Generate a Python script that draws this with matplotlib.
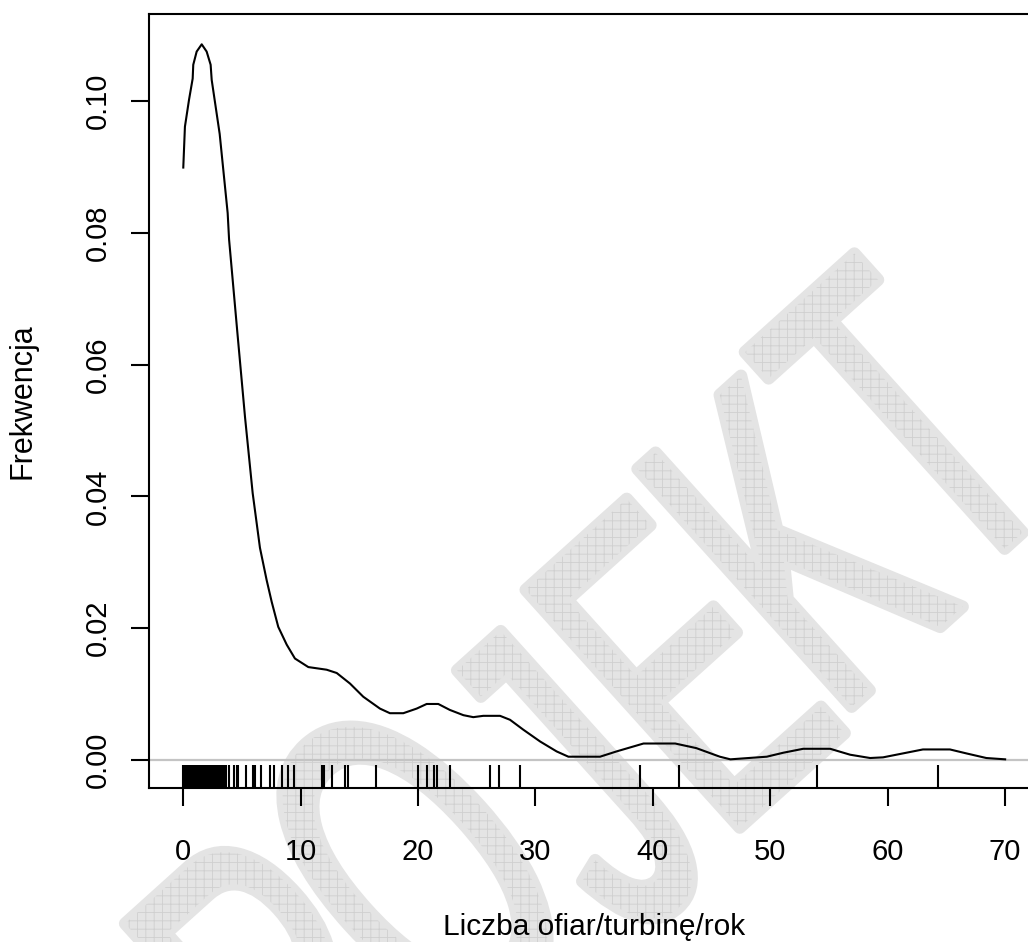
import numpy as np
import matplotlib
matplotlib.use("Agg")
import matplotlib.pyplot as plt
from matplotlib.textpath import TextPath
from matplotlib.font_manager import FontProperties
from matplotlib.patches import PathPatch
from matplotlib.transforms import Affine2D, IdentityTransform, blended_transform_factory

# ---- data ----
dens_x = [0.0, 0.14, 0.49, 0.80, 0.85, 1.14, 1.57, 1.99, 2.33, 2.42, 3.10, 3.78, 3.9,
          4.6, 5.26, 5.91, 6.53, 7.1, 7.53, 8.09, 8.81, 9.51, 10.65, 12.21, 13.07, 14.2,
          15.33, 16.75, 17.6, 18.74, 19.88, 20.73, 21.72, 22.7, 23.86, 24.7, 25.55, 26.98,
          27.83, 28.96, 30.4, 31.8, 32.8, 35.5, 36.9, 39.2, 41.9, 43.7, 45.7, 46.6, 49.7,
          51.1, 52.8, 55.1, 56.8, 58.5, 59.6, 61.3, 63.0, 65.3, 66.7, 68.4, 70.0]
dens_y = [0.0899, 0.0961, 0.1002, 0.1034, 0.1055, 0.1075, 0.1086, 0.1075, 0.1055, 0.1032,
          0.0950, 0.0830, 0.0790, 0.0650, 0.0520, 0.0405, 0.0322, 0.0273, 0.0240, 0.0202,
          0.0175, 0.0154, 0.0141, 0.0137, 0.0132, 0.0116, 0.0096, 0.0078, 0.0071, 0.0071,
          0.0078, 0.0085, 0.0085, 0.0076, 0.0068, 0.0065, 0.0067, 0.0067, 0.0061, 0.0046,
          0.0028, 0.0013, 0.0005, 0.0005, 0.0013, 0.0025, 0.0025, 0.0018, 0.0005, 0.0001,
          0.0005, 0.0011, 0.0017, 0.0017, 0.0008, 0.0003, 0.0004, 0.0010, 0.0016, 0.0016,
          0.0010, 0.0003, 0.0001]
rug_x = [0.0, 0.1, 0.15, 0.25, 0.3, 0.4, 0.5, 0.55, 0.65, 0.7, 0.8, 0.9, 1.0, 1.05, 1.15,
         1.2, 1.3, 1.4, 1.5, 1.6, 1.7, 1.8, 1.9, 2.0, 2.1, 2.2, 2.3, 2.35, 2.45, 2.6, 2.7,
         2.8, 2.9, 3.0, 3.1, 3.27, 3.47, 3.65, 3.9, 4.35, 4.55, 4.7, 5.34, 5.9, 6.1, 6.6,
         7.4, 7.7, 8.4, 8.95, 9.46, 11.8, 12.0, 12.7, 13.8, 14.05, 16.4, 20.0, 20.8, 21.35,
         21.6, 22.7, 26.1, 26.9, 28.7, 38.9, 42.25, 53.95, 64.3]
x_ticks = [0, 10, 20, 30, 40, 50, 60, 70]
y_ticks = [0.00, 0.02, 0.04, 0.06, 0.08, 0.10]
y_tick_labels = ["0.00", "0.02", "0.04", "0.06", "0.08", "0.10"]
x_label = "Liczba ofiar/turbinę/rok"
y_label = "Frekwencja"
watermark = "PROJEKT"

W, H = 1028, 942
plt.rcParams['font.family'] = ['Liberation Sans', 'DejaVu Sans']
plt.rcParams['hatch.linewidth'] = 0.6
fig = plt.figure(figsize=(W / 100, H / 100), dpi=100)

# axes geometry (pixels)
left_px, right_px, top_px, bot_px = 149, 1039.4, 14, 788
ax = fig.add_axes([left_px / W, (H - bot_px) / H, (right_px - left_px) / W, (bot_px - top_px) / H])
ax.patch.set_visible(False)

# ---- watermark (decoration) ----
theta = 42.0
fp = FontProperties(family='Liberation Sans', weight='normal')
S = 465.0
sx, sy = 0.56, 1.0
# (position along the slanted baseline, offset across it) for each letter, in pixels
letter_pos = {'P': (-680, 1090), 'R': (-525, 1090), 'O': (-360, 1082), 'J': (-157, 1124),
              'E': (-4, 1110), 'K': (160, 1095), 'T': (318, 1080)}
ct, st = np.cos(np.radians(theta)), np.sin(np.radians(theta))
for ch in watermark:
    s, n = letter_pos[ch]
    tp = TextPath((0, 0), ch, size=S, prop=fp)
    ext = tp.get_extents()
    px = ct * s + st * n
    py_down = -st * s + ct * n
    tr = (Affine2D().translate(-ext.x0, 0).scale(sx, sy).rotate_deg(theta)
          .translate(px, H - py_down))
    path = tr.transform_path(tp)
    fig.patches.append(PathPatch(path, facecolor='#e4e4e4', edgecolor='#e4e4e4', lw=9,
                                 joinstyle='round', capstyle='round',
                                 transform=IdentityTransform(), zorder=-5, figure=fig))
    fig.patches.append(PathPatch(path, facecolor='none', edgecolor='#cfcfcf', lw=0,
                                 hatch='++', transform=IdentityTransform(),
                                 zorder=-4, figure=fig))

# ---- data marks ----
ax.axhline(0, color='#c4c4c4', lw=1.6, zorder=1)
ax.plot(dens_x, dens_y, color='black', lw=1.5, zorder=3)
trans = blended_transform_factory(ax.transData, ax.transAxes)
ax.vlines(rug_x, 0, 0.03, transform=trans, color='black', lw=1.5, zorder=3)

ax.set_xlim(-2.92, 72.92)
ax.set_ylim(-0.00425, 0.1132)
for sp in ax.spines.values():
    sp.set_linewidth(1.5)
ax.set_xticks(x_ticks)
ax.set_xticklabels([str(v) for v in x_ticks])
ax.set_yticks(y_ticks)
ax.set_yticklabels(y_tick_labels, rotation=90, va='center')
ax.tick_params(axis='both', length=13, width=1.5, labelsize=21)
ax.tick_params(axis='x', pad=23)
ax.tick_params(axis='y', pad=14)

ax.set_xlabel(x_label, fontsize=21.5)
ax.set_ylabel(y_label, fontsize=22)
ax.xaxis.set_label_coords(0.5, -0.161)
ax.yaxis.set_label_coords(-0.1247, 0.5)

fig.savefig("out.png", dpi=100)
